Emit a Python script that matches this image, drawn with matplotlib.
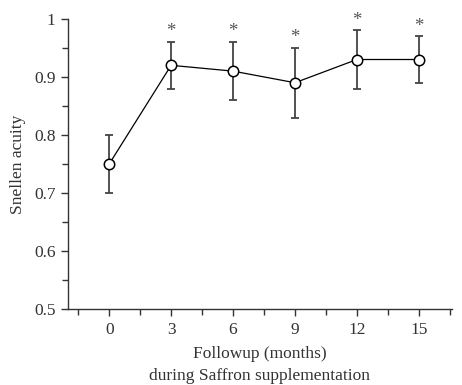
import numpy as np
import matplotlib
matplotlib.use('Agg')
import matplotlib.pyplot as plt
from matplotlib.ticker import MultipleLocator

months = [0, 3, 6, 9, 12, 15]
acuity = [0.75, 0.92, 0.91, 0.89, 0.93, 0.93]
err = [0.05, 0.04, 0.05, 0.06, 0.05, 0.04]
signif = ['', '*', '*', '*', '*', '*']

plt.rcParams['font.family'] = ['Liberation Serif', 'DejaVu Serif']

fig = plt.figure(figsize=(4.62, 3.85), dpi=100)
ax = fig.add_axes([0.147, 0.197, 0.831, 0.754])

ax.errorbar(months, acuity, yerr=err, fmt='none', ecolor='#444444',
            elinewidth=1.3, capsize=3, capthick=1.3, zorder=1)
ax.plot(months, acuity, '-', color='black', lw=0.9, marker='o', ms=7.5,
        mfc='white', mec='black', mew=1.1, zorder=2)

for x, y, e, s in zip(months, acuity, err, signif):
    if s:
        ax.text(x, y + e + 0.003, s, ha='center', va='bottom',
                fontsize=13.5, color='#555555')

ax.set_xlim(-2, 16.6)
ax.set_ylim(0.5, 1.0)
ax.set_xticks(months)
ax.set_xticks([m + 1.5 for m in [-3] + months], minor=True)
ax.set_yticks([0.5, 0.6, 0.7, 0.8, 0.9, 1.0])
ax.set_yticklabels(['0.5', '0.6', '0.7', '0.8', '0.9', '1'])
ax.yaxis.set_minor_locator(MultipleLocator(0.05))

for side in ['top', 'right']:
    ax.spines[side].set_visible(False)
for side in ['left', 'bottom']:
    ax.spines[side].set_color('#333333')
    ax.spines[side].set_linewidth(1.0)

ax.tick_params(which='both', direction='out', colors='#333333', labelsize=12.5)
ax.tick_params(which='major', length=5, width=1.0, pad=4)
ax.tick_params(which='minor', length=4, width=1.0)

ax.set_ylabel('Snellen acuity', fontsize=12.5, color='#333333', labelpad=6)
ax.set_xlabel('Followup (months)\nduring Saffron supplementation',
              fontsize=12.5, color='#333333', labelpad=6, linespacing=1.5)

fig.savefig('out.png', dpi=100)
